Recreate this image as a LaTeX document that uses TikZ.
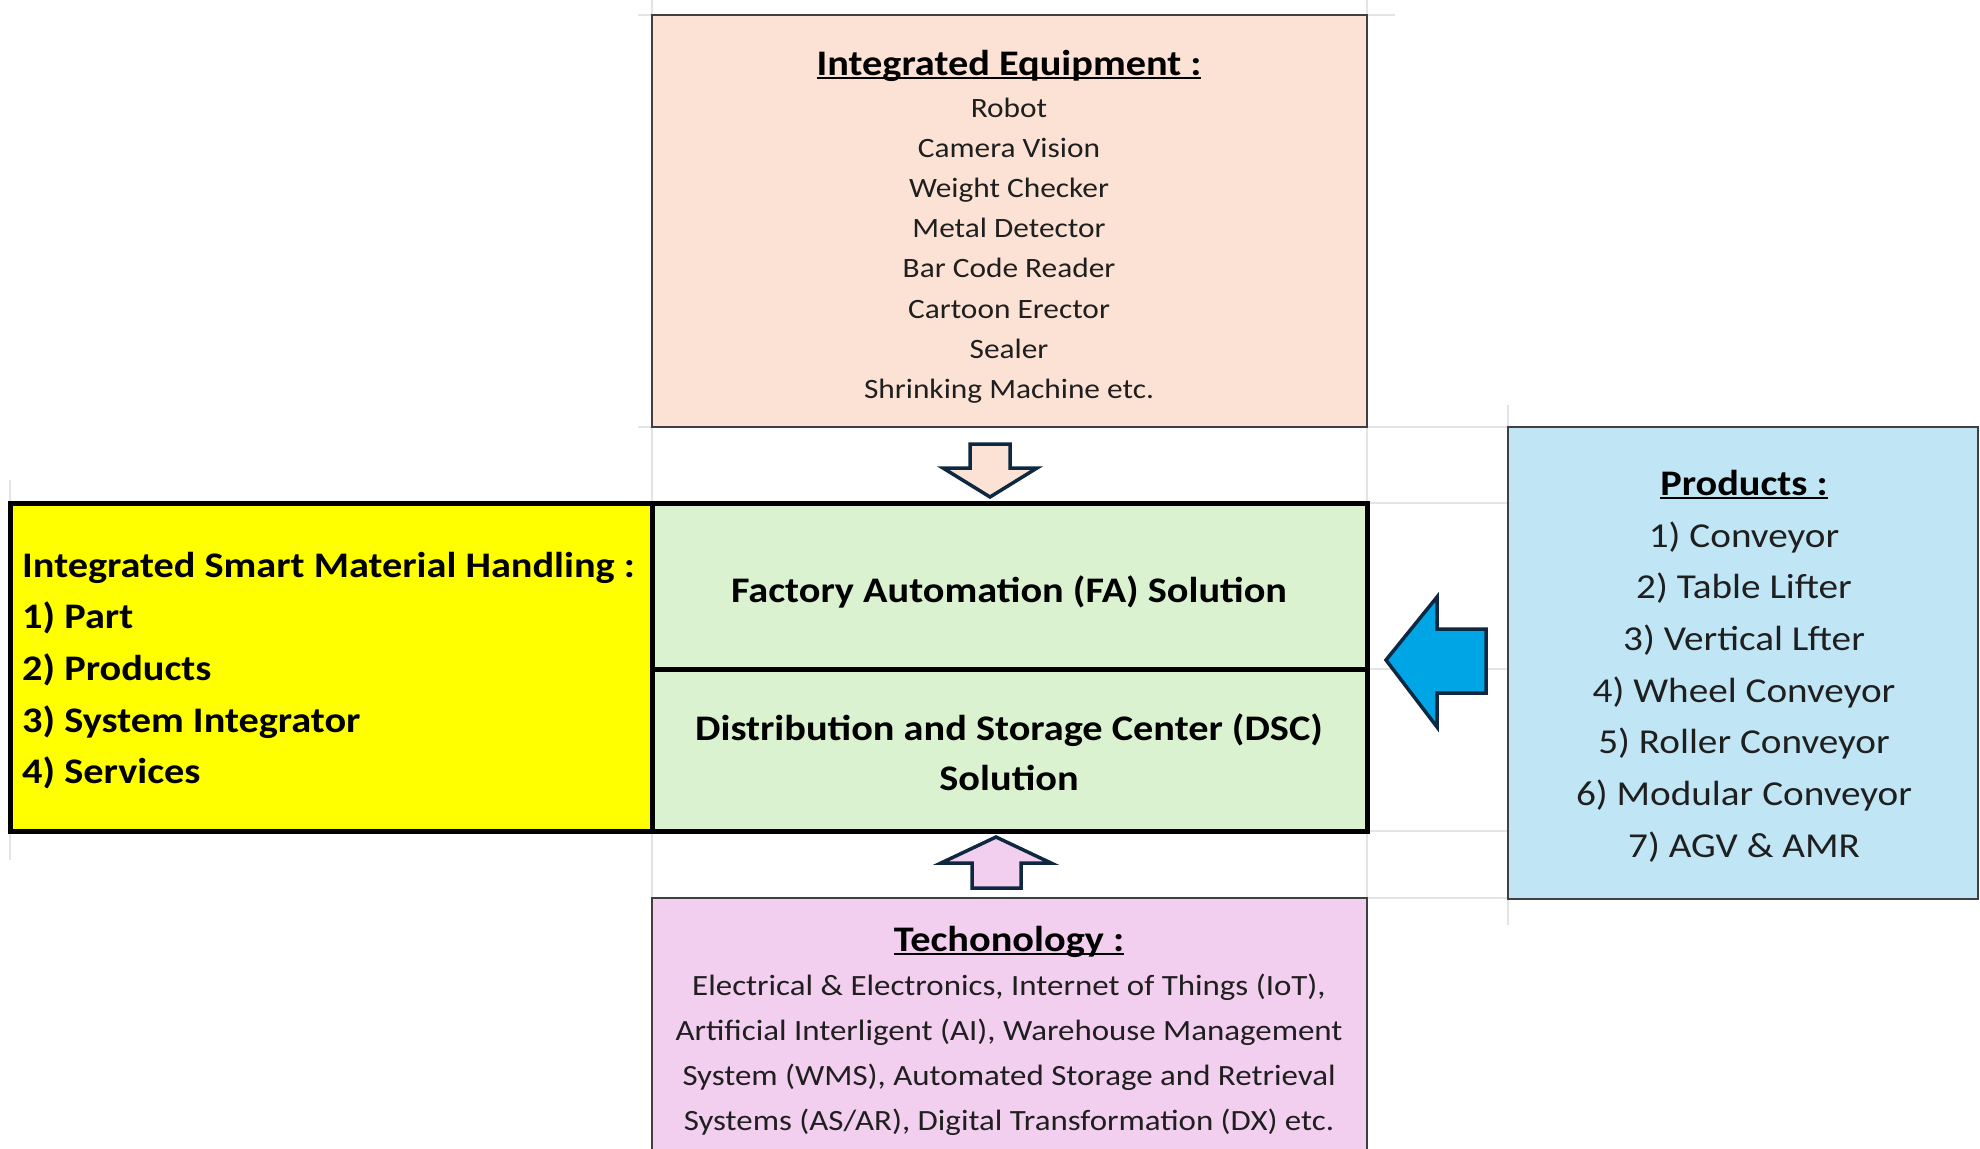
\documentclass[tikz,border=0pt]{standalone}
\usepackage{fontspec}
\setmainfont[FakeStretch=1.12]{Carlito}
\definecolor{peach}{HTML}{FBE2D5}
\definecolor{mint}{HTML}{DAF2D0}
\definecolor{lemon}{HTML}{FFFF00}
\definecolor{lav}{HTML}{F2CEEF}
\definecolor{sky}{HTML}{C0E6F5}
\definecolor{arrowblue}{HTML}{00A5E6}
\definecolor{navy}{HTML}{0E2841}
\definecolor{boxedge}{HTML}{404040}
\definecolor{gridc}{HTML}{E4E4E4}
\definecolor{textc}{HTML}{1F1F1F}
\newcommand\ulx[1]{\setbox0=\hbox{#1}\rlap{\rule[-0.12em]{\wd0}{0.07em}}\box0}
\begin{document}
\begin{tikzpicture}[x=1pt,y=-1pt,
  gridline/.style={draw=gridc, line width=1.5pt},
  box/.style={draw=boxedge, line width=2pt, inner sep=0pt, outer sep=0pt, anchor=north west},
  heavy/.style={draw=black, line width=5pt, inner sep=0pt, outer sep=0pt, anchor=north west},
  blockarrow/.style={draw=navy, line width=3.5pt, line join=miter},
  txt/.style={inner sep=0pt, anchor=base, text=textc},
  bold/.style={txt, text=black, font=\fontsize{36}{40}\selectfont\bfseries},
  eqitem/.style={txt, text=textc, font=\fontsize{28}{32}\selectfont},
  proditem/.style={txt, text=textc, font=\fontsize{35}{38}\selectfont},
  techitem/.style={txt, text=textc, font=\fontsize{29.4}{33}\selectfont}]
\useasboundingbox (0,0) rectangle (1980,1148);
\clip (0,0) rectangle (1980,1148);
% faint spreadsheet gridlines
\draw[gridline] (638,15) -- (1395,15);
\draw[gridline] (638,427) -- (1508,427);
\draw[gridline] (1368,503) -- (1508,503);
\draw[gridline] (1368,669) -- (1508,669);
\draw[gridline] (1368,831) -- (1508,831);
\draw[gridline] (1367,898) -- (1508,898);
\draw[gridline] (652,0) -- (652,15);
\draw[gridline] (1367,0) -- (1367,15);
\draw[gridline] (652,427) -- (652,503);
\draw[gridline] (1367,427) -- (1367,503);
\draw[gridline] (652,831) -- (652,898);
\draw[gridline] (1367,831) -- (1367,898);
\draw[gridline] (1508,405) -- (1508,427);
\draw[gridline] (1508,899) -- (1508,925);
\draw[gridline] (10,480) -- (10,503);
\draw[gridline] (10,831) -- (10,860);
% boxes
\node[box, fill=peach, minimum width=715pt, minimum height=412pt] (equip) at (652,15) {};
\node[box, fill=sky, minimum width=470pt, minimum height=472pt] (prod) at (1508,427) {};
\node[box, fill=lav, minimum width=715pt, minimum height=300pt] (tech) at (652,898) {};
\node[heavy, fill=lemon, minimum width=642pt, minimum height=328pt] (ysmh) at (10,503) {};
\node[heavy, fill=mint, minimum width=715pt, minimum height=166pt] (fa) at (652,503) {};
\node[heavy, fill=mint, minimum width=715pt, minimum height=162pt] (dsc) at (652,669) {};
% block arrows
\draw[blockarrow, fill=peach] (970,444) -- (1010,444) -- (1010,468) -- (1037,468) -- (990,497) -- (943,468) -- (970,468) -- cycle;
\draw[blockarrow, fill=lav] (972,888) -- (1021,888) -- (1021,863) -- (1051,863) -- (996,837) -- (941,863) -- (972,863) -- cycle;
\draw[blockarrow, fill=arrowblue] (1486,629) -- (1486,693) -- (1437,693) -- (1437,727) -- (1386,660) -- (1437,597) -- (1437,629) -- cycle;
% Integrated Equipment
\node[bold] (eqt) at (1009,75) {\ulx{Integrated Equipment :}};
\node[eqitem] (eq1) at (1009,117) {Robot};
\node[eqitem] (eq2) at (1009,157) {Camera Vision};
\node[eqitem] (eq3) at (1009,197) {Weight Checker};
\node[eqitem] (eq4) at (1009,237) {Metal Detector};
\node[eqitem] (eq5) at (1009,277) {Bar Code Reader};
\node[eqitem] (eq6) at (1009,318) {Cartoon Erector};
\node[eqitem] (eq7) at (1009,358) {Sealer};
\node[eqitem] (eq8) at (1009,398) {Shrinking Machine etc.};
% Yellow block
\node[bold, anchor=base west] (y0) at (22,577) {Integrated Smart Material Handling :};
\node[bold, anchor=base west] (y1) at (22,628) {1) Part};
\node[bold, anchor=base west] (y2) at (22,680) {2) Products};
\node[bold, anchor=base west] (y3) at (22,732) {3) System Integrator};
\node[bold, anchor=base west] (y4) at (22,783) {4) Services};
% Green blocks
\node[bold] (fat) at (1009,602) {Factory Automation (FA) Solution};
\node[bold] (dsct1) at (1009,740) {Distribution and Storage Center (DSC)};
\node[bold] (dsct2) at (1009,790) {Solution};
% Products
\node[bold] (prt) at (1744,495) {\ulx{Products :}};
\node[proditem] (p1) at (1744,547) {1) Conveyor};
\node[proditem] (p2) at (1744,598) {2) Table Lifter};
\node[proditem] (p3) at (1744,650) {3) Vertical Lfter};
\node[proditem] (p4) at (1744,702) {4) Wheel Conveyor};
\node[proditem] (p5) at (1744,753) {5) Roller Conveyor};
\node[proditem] (p6) at (1744,805) {6) Modular Conveyor};
\node[proditem] (p7) at (1744,857) {7) AGV \& AMR};
% Technology
\node[bold] (tt) at (1009,951) {\ulx{Techonology :}};
\node[techitem] (t1) at (1009,995) {Electrical \& Electronics, Internet of Things (IoT),};
\node[techitem] (t2) at (1009,1040) {Artificial Interligent (AI), Warehouse Management};
\node[techitem] (t3) at (1009,1085) {System (WMS), Automated Storage and Retrieval};
\node[techitem] (t4) at (1009,1130) {Systems (AS/AR), Digital Transformation (DX) etc.};
\end{tikzpicture}
\end{document}
